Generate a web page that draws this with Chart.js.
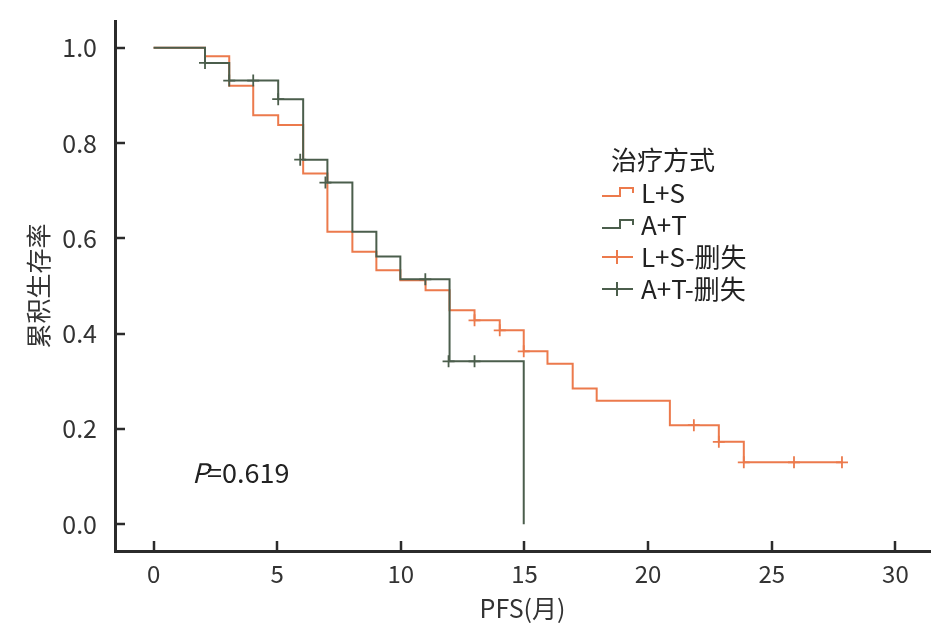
<!DOCTYPE html>
<html>
<head>
<meta charset="utf-8">
<script src="https://cdn.jsdelivr.net/npm/chart.js@4/dist/chart.umd.min.js"></script>
<style>
  html, body { margin: 0; padding: 0; background: #fff; }
  canvas { display: block; }
</style>
</head>
<body>
<canvas id="kmChart" width="945" height="637"></canvas>
<script>
// KM curves (time in months, cumulative survival)
const lsTimes = [0, 2.08, 3.06, 4.03, 5.04, 6.05, 7.03, 8.04, 9.01, 9.98, 11.0, 11.97, 12.98, 14.0, 14.97, 15.93, 16.95, 17.92, 20.88, 22.86, 23.87, 27.84];
const lsSurv = [1.0, 0.982, 0.920, 0.858, 0.838, 0.736, 0.614, 0.572, 0.533, 0.512, 0.491, 0.449, 0.428, 0.407, 0.363, 0.337, 0.285, 0.259, 0.208, 0.173, 0.130, 0.130];
const atTimes = [0, 2.08, 3.06, 5.04, 6.05, 7.03, 8.04, 9.01, 9.98, 11.97, 14.97];
const atSurv = [1.0, 0.968, 0.931, 0.892, 0.765, 0.717, 0.614, 0.562, 0.514, 0.342, 0.0];

// censored observations
const lsCensorTimes = [12.98, 14.0, 14.97, 21.85, 22.86, 23.87, 25.9, 27.84];
const lsCensorSurv = [0.428, 0.407, 0.363, 0.208, 0.173, 0.130, 0.130, 0.130];
const atCensorTimes = [2.08, 3.06, 4.03, 5.04, 5.93, 6.95, 10.99, 11.93, 12.98];
const atCensorSurv = [0.968, 0.931, 0.931, 0.892, 0.765, 0.717, 0.514, 0.342, 0.342];

const xTickValues = [0, 5, 10, 15, 20, 25, 30];
const yTickValues = [0, 0.2, 0.4, 0.6, 0.8, 1.0];

const legendTitle = "治疗方式";
const legendLabels = ["L+S", "A+T", "L+S-删失", "A+T-删失"];
const pValueText = "=0.619";

const ORANGE = "#EC7A4C";
const GREEN = "#4B5E4C";
const AXIS = "#2b2b2b";
const FONT = "'Noto Sans CJK SC', 'Noto Sans', sans-serif";

function toPoints(xs, ys) {
  return xs.map((x, i) => ({ x: x, y: ys[i] }));
}

// inward tick marks on both axes
const innerTicks = {
  id: "innerTicks",
  afterDraw(chart) {
    const { ctx, chartArea, scales } = chart;
    ctx.save();
    ctx.strokeStyle = AXIS;
    ctx.lineWidth = 2.5;
    yTickValues.forEach((v) => {
      const y = Math.round(scales.y.getPixelForValue(v));
      ctx.beginPath();
      ctx.moveTo(chartArea.left, y);
      ctx.lineTo(chartArea.left + 10, y);
      ctx.stroke();
    });
    xTickValues.forEach((v) => {
      const x = Math.round(scales.x.getPixelForValue(v));
      ctx.beginPath();
      ctx.moveTo(x, chartArea.bottom);
      ctx.lineTo(x, chartArea.bottom - 10);
      ctx.stroke();
    });
    ctx.restore();
  },
};

// legend box and p-value text
const kmLegend = {
  id: "kmLegend",
  afterDraw(chart) {
    const ctx = chart.ctx;
    ctx.save();
    ctx.font = "26px " + FONT;
    ctx.fillStyle = "#222";
    ctx.textBaseline = "middle";
    ctx.textAlign = "left";
    ctx.fillText(legendTitle, 611, 160);

    const rows = [193, 225, 257, 289];
    const colors = [ORANGE, GREEN, ORANGE, GREEN];
    rows.forEach((y, i) => {
      ctx.strokeStyle = colors[i];
      ctx.lineWidth = 2;
      ctx.beginPath();
      if (i < 2) {
        ctx.moveTo(602, y + 3);
        ctx.lineTo(620, y + 3);
        ctx.lineTo(620, y - 5);
        ctx.lineTo(633, y - 5);
        ctx.lineTo(633, y);
      } else {
        ctx.moveTo(602, y);
        ctx.lineTo(633, y);
        ctx.moveTo(617, y - 7);
        ctx.lineTo(617, y + 7);
      }
      ctx.stroke();
      ctx.fillStyle = "#222";
      ctx.fillText(legendLabels[i], 641, y);
    });

    // P value
    const px = chart.scales.x.getPixelForValue(1.55);
    const py = chart.scales.y.getPixelForValue(0.108);
    ctx.font = "italic 27px " + FONT;
    ctx.fillText("P", px, py);
    const w = ctx.measureText("P").width;
    ctx.font = "27px " + FONT;
    ctx.fillText(pValueText, px + w - 2, py);
    ctx.restore();
  },
};

const ctx = document.getElementById("kmChart").getContext("2d");
const kmChart = new Chart(ctx, {
  type: "line",
  data: {
    datasets: [
      {
        label: "L+S",
        data: toPoints(lsTimes, lsSurv),
        borderColor: ORANGE,
        borderWidth: 2,
        stepped: "before",
        pointRadius: 0,
        fill: false,
        order: 3,
      },
      {
        label: "L+S-删失",
        data: toPoints(lsCensorTimes, lsCensorSurv),
        borderColor: ORANGE,
        showLine: false,
        pointStyle: "cross",
        pointRadius: 6,
        pointBorderWidth: 1.8,
        order: 2,
      },
      {
        label: "A+T",
        data: toPoints(atTimes, atSurv),
        borderColor: GREEN,
        borderWidth: 2,
        stepped: "before",
        pointRadius: 0,
        fill: false,
        order: 1,
      },
      {
        label: "A+T-删失",
        data: toPoints(atCensorTimes, atCensorSurv),
        borderColor: GREEN,
        showLine: false,
        pointStyle: "cross",
        pointRadius: 6,
        pointBorderWidth: 1.8,
        order: 0,
      },
    ],
  },
  options: {
    responsive: false,
    animation: false,
    layout: { padding: { top: 21, right: 15, left: 0, bottom: 0 } },
    plugins: {
      legend: { display: false },
      tooltip: { enabled: false },
    },
    scales: {
      x: {
        type: "linear",
        min: -1.56,
        max: 31.4,
        grid: { display: false, drawTicks: false },
        border: { display: true, color: AXIS, width: 3 },
        afterBuildTicks: (scale) => {
          scale.ticks = xTickValues.map((v) => ({ value: v }));
        },
        afterFit: (scale) => {
          scale.height = 86;
          scale.paddingLeft = 0;
          scale.paddingRight = 0;
        },
        ticks: {
          padding: 8,
          color: "#333",
          font: { family: FONT, size: 24 },
        },
        title: {
          display: true,
          text: "PFS(月)",
          color: "#333",
          font: { family: FONT, size: 25 },
          padding: { top: 4, bottom: 14 },
        },
      },
      y: {
        type: "linear",
        min: -0.056,
        max: 1.056,
        grid: { display: false, drawTicks: false },
        border: { display: true, color: AXIS, width: 3 },
        afterBuildTicks: (scale) => {
          scale.ticks = yTickValues.map((v) => ({ value: v }));
        },
        afterFit: (scale) => {
          scale.width = 115;
          scale.paddingTop = 0;
          scale.paddingBottom = 0;
        },
        ticks: {
          padding: 18,
          color: "#333",
          font: { family: FONT, size: 25 },
          callback: (v) => Number(v).toFixed(1),
        },
        title: {
          display: true,
          text: "累积生存率",
          color: "#333",
          font: { family: FONT, size: 25 },
          padding: { top: 23 },
        },
      },
    },
  },
  plugins: [innerTicks, kmLegend],
});
</script>
</body>
</html>
